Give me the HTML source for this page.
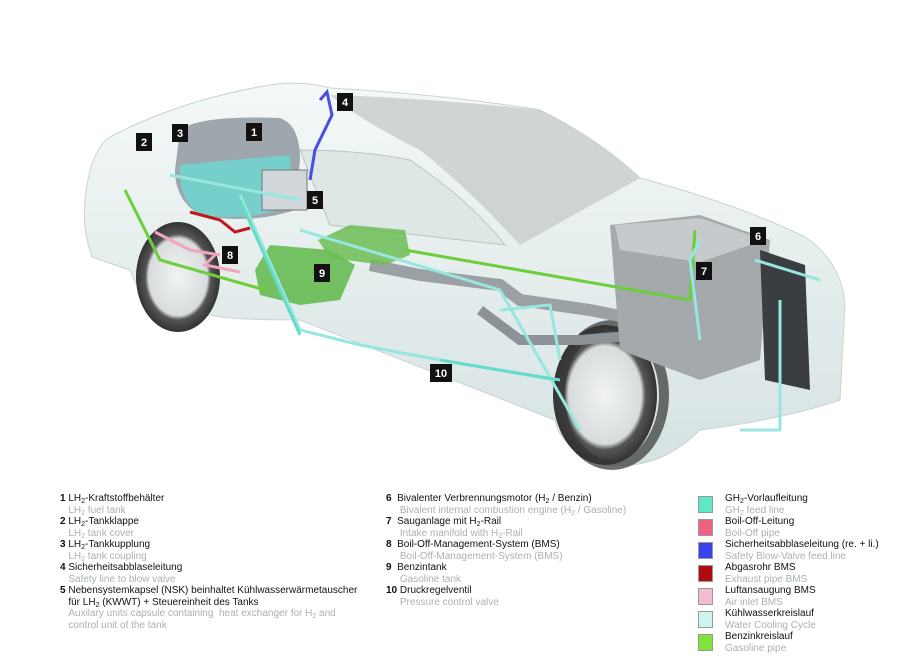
<!DOCTYPE html>
<html><head><meta charset="utf-8"><style>
body{margin:0;width:900px;height:663px;background:#fff;overflow:hidden;position:relative;font-family:"Liberation Sans",sans-serif}
.l{position:absolute;font-size:10px;line-height:11.5px;color:#111;white-space:nowrap}
.g{color:#aab0b4}
.sw{position:absolute;left:698px;width:13px;height:15px;border:1px solid #999}
sub{font-size:7px;vertical-align:-2px;line-height:0}
</style></head><body>
<svg width="900" height="480" style="position:absolute;left:0;top:0">
<defs>
<linearGradient id="bd" x1="0" y1="0" x2="0" y2="1"><stop offset="0" stop-color="#f4f8f8"/><stop offset="1" stop-color="#d6e2e2"/></linearGradient>
<radialGradient id="wh"><stop offset="0" stop-color="#f2f4f4"/><stop offset=".7" stop-color="#d8dcdc"/><stop offset=".78" stop-color="#555"/><stop offset="1" stop-color="#333"/></radialGradient>
</defs>
<!-- car body -->
<path d="M85,200 Q90,150 110,137 Q180,100 270,85 Q300,80 330,88 Q450,95 540,110 Q600,140 640,178 Q740,205 805,237 Q840,260 845,303 L840,400 Q780,420 700,430 Q660,470 610,465 Q560,450 555,420 L300,320 Q230,320 210,315 Q190,320 170,315 Q140,300 130,270 L92,257 Q82,230 85,200Z" fill="url(#bd)" stroke="#c8d4d4"/>
<!-- cabin glass -->
<path d="M330,95 Q430,98 540,110 Q600,140 640,178 L520,245 Q470,190 420,150 Q360,120 330,95Z" fill="#c9cfcf" opacity=".85"/>
<path d="M300,150 Q360,150 410,160 Q470,200 505,245 L330,225Z" fill="#dfe6e6" stroke="#b8c4c4"/>
<!-- wheels -->
<ellipse cx="178" cy="277" rx="42" ry="55" fill="url(#wh)"/>
<ellipse cx="605" cy="395" rx="52" ry="70" fill="url(#wh)"/>
<ellipse cx="612" cy="395" rx="52" ry="70" fill="none" stroke="#333" stroke-width="10" opacity=".7"/>
<!-- tank 1 -->
<path d="M180,130 Q200,115 280,118 Q300,125 300,160 L295,210 Q250,225 200,215 Q175,200 175,170Z" fill="#9ea6ae"/>
<path d="M180,165 Q230,160 290,155 L292,205 Q250,222 200,215 Q178,200 180,165Z" fill="#6ed6d0" opacity=".85"/>
<rect x="262" y="170" width="45" height="40" fill="#d0d6da" stroke="#777"/>
<!-- exhaust -->
<path d="M370,265 L420,275 L500,285 L520,300 L590,310 L640,320" stroke="#9aa0a4" stroke-width="12" fill="none"/>
<path d="M480,310 L520,340 L580,340 L640,335" stroke="#8c9296" stroke-width="10" fill="none"/>
<!-- engine -->
<path d="M610,225 L700,215 L770,240 L760,360 L700,380 L620,350Z" fill="#a4a9ac"/>
<path d="M615,225 L700,218 L765,240 L700,262 L620,250Z" fill="#c6cacc"/>
<path d="M760,250 L805,265 L810,390 L765,380Z" fill="#3a3e40"/>
<!-- green tank 9 -->
<path d="M255,270 L270,245 L330,250 L355,265 L340,300 L300,305 L260,295Z" fill="#5fb84a" opacity=".85"/>
<path d="M318,240 L350,225 L405,230 L410,255 L385,265 L330,258Z" fill="#6cbd55" opacity=".85"/>
<!-- pipes -->
<g fill="none" stroke-width="3">
<path d="M125,190 L160,260 L265,290 M405,250 L690,300 L695,230" stroke="#6ccf3a"/>
<path d="M320,100 L327,92 L332,115 L315,150 L310,180" stroke="#4a4ee0"/>
<path d="M155,232 L190,250 L220,255 M215,255 L205,265 L240,272" stroke="#f0a6c0"/>
<path d="M190,212 L220,220 L235,232 L250,228" stroke="#c0181e"/>
<path d="M170,175 L300,200 M240,195 L300,330 L360,345 L440,360 L555,380 M300,230 L500,290 L580,430 M500,310 L550,305 L560,360 M700,240 L690,260 L700,340 M780,300 L780,430 L740,430 M755,260 L820,280" stroke="#98e6e0"/>
<path d="M240,200 L300,335 M440,360 L560,380" stroke="#66dcc8"/>
</g>
<!-- labels -->
<g font-family="Liberation Sans" font-weight="bold" font-size="11" fill="#fff" text-anchor="middle">
<rect x="246" y="123" width="16" height="18" fill="#111"/><text x="254" y="136">1</text>
<rect x="136" y="133" width="16" height="18" fill="#111"/><text x="144" y="146">2</text>
<rect x="172" y="124" width="16" height="18" fill="#111"/><text x="180" y="137">3</text>
<rect x="337" y="93" width="16" height="18" fill="#111"/><text x="345" y="106">4</text>
<rect x="307" y="191" width="16" height="18" fill="#111"/><text x="315" y="204">5</text>
<rect x="750" y="227" width="16" height="18" fill="#111"/><text x="758" y="240">6</text>
<rect x="696" y="262" width="16" height="18" fill="#111"/><text x="704" y="275">7</text>
<rect x="222" y="246" width="16" height="18" fill="#111"/><text x="230" y="259">8</text>
<rect x="314" y="264" width="16" height="18" fill="#111"/><text x="322" y="277">9</text>
<rect x="430" y="364" width="22" height="18" fill="#111"/><text x="441" y="377">10</text>
</g>
</svg>

<div class="l" style="left:60px;top:493px"><b>1</b> LH<sub>2</sub>-Kraftstoffbehälter<br><span class="g">&nbsp;&nbsp;&nbsp;LH<sub>2</sub> fuel tank</span></div>
<div class="l" style="left:60px;top:516px"><b>2</b> LH<sub>2</sub>-Tankklappe<br><span class="g">&nbsp;&nbsp;&nbsp;LH<sub>2</sub> tank cover</span></div>
<div class="l" style="left:60px;top:539px"><b>3</b> LH<sub>2</sub>-Tankkupplung<br><span class="g">&nbsp;&nbsp;&nbsp;LH<sub>2</sub> tank coupling</span></div>
<div class="l" style="left:60px;top:562px"><b>4</b> Sicherheitsabblaseleitung<br><span class="g">&nbsp;&nbsp;&nbsp;Safety line to blow valve</span></div>
<div class="l" style="left:60px;top:585px"><b>5</b> Nebensystemkapsel (NSK) beinhaltet Kühlwasserwärmetauscher<br>&nbsp;&nbsp;&nbsp;für LH<sub>2</sub> (KWWT) + Steuereinheit des Tanks<br><span class="g">&nbsp;&nbsp;&nbsp;Auxilary units capsule containing &nbsp;heat exchanger for H<sub>2</sub> and<br>&nbsp;&nbsp;&nbsp;control unit of the tank</span></div>

<div class="l" style="left:386px;top:493px"><b>6</b>&nbsp;&nbsp;Bivalenter Verbrennungsmotor (H<sub>2</sub> / Benzin)<br><span class="g">&nbsp;&nbsp;&nbsp;&nbsp;&nbsp;Bivalent internal combustion engine (H<sub>2</sub> / Gasoline)</span></div>
<div class="l" style="left:386px;top:516px"><b>7</b>&nbsp;&nbsp;Sauganlage mit H<sub>2</sub>-Rail<br><span class="g">&nbsp;&nbsp;&nbsp;&nbsp;&nbsp;Intake manifold with H<sub>2</sub>-Rail</span></div>
<div class="l" style="left:386px;top:539px"><b>8</b>&nbsp;&nbsp;Boil-Off-Management-System (BMS)<br><span class="g">&nbsp;&nbsp;&nbsp;&nbsp;&nbsp;Boil-Off-Management-System (BMS)</span></div>
<div class="l" style="left:386px;top:562px"><b>9</b>&nbsp;&nbsp;Benzintank<br><span class="g">&nbsp;&nbsp;&nbsp;&nbsp;&nbsp;Gasoline tank</span></div>
<div class="l" style="left:386px;top:585px"><b>10</b> Druckregelventil<br><span class="g">&nbsp;&nbsp;&nbsp;&nbsp;&nbsp;Pressure control valve</span></div>

<div class="sw" style="top:496px;background:#5ee8c8"></div>
<div class="sw" style="top:519px;background:#f06080"></div>
<div class="sw" style="top:542px;background:#3a44ee"></div>
<div class="sw" style="top:565px;background:#b00c10"></div>
<div class="sw" style="top:588px;background:#f4bcd4"></div>
<div class="sw" style="top:611px;background:#cdf4f2"></div>
<div class="sw" style="top:634px;background:#7ee43a"></div>
<div class="l" style="left:725px;top:493px">GH<sub>2</sub>-Vorlaufleitung<br><span class="g">GH<sub>2</sub> feed line</span></div>
<div class="l" style="left:725px;top:516px">Boil-Off-Leitung<br><span class="g">Boil-Off pipe</span></div>
<div class="l" style="left:725px;top:539px">Sicherheitsabblaseleitung (re. + li.)<br><span class="g">Safety Blow-Valve feed line</span></div>
<div class="l" style="left:725px;top:562px">Abgasrohr BMS<br><span class="g">Exhaust pipe BMS</span></div>
<div class="l" style="left:725px;top:585px">Luftansaugung BMS<br><span class="g">Air inlet BMS</span></div>
<div class="l" style="left:725px;top:608px">Kühlwasserkreislauf<br><span class="g">Water Cooling Cycle</span></div>
<div class="l" style="left:725px;top:631px">Benzinkreislauf<br><span class="g">Gasoline pipe</span></div>
</body></html>
